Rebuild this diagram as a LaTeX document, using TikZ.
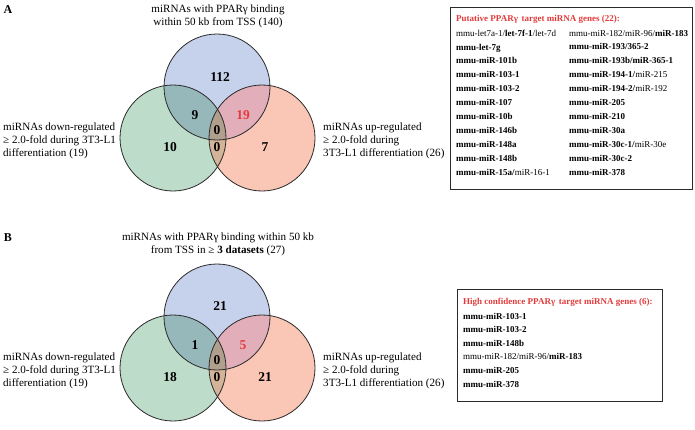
\documentclass[tikz,border=0pt]{standalone}
\usepackage{fontspec}
\setmainfont{Liberation Serif}
\definecolor{cblue}{HTML}{C6D1EC}
\definecolor{cgreen}{HTML}{BDDDCA}
\definecolor{corange}{HTML}{FAC6B6}
\definecolor{cbg}{HTML}{97B8BA}
\definecolor{cbo}{HTML}{E2AEB9}
\definecolor{cgo}{HTML}{D3B499}
\definecolor{cmid}{HTML}{B09F8C}
\definecolor{cred}{HTML}{E23B3B}
\definecolor{cline}{HTML}{2A2A2A}
\begin{document}
\begin{tikzpicture}[x=1pt,y=-1pt,
  lbl/.style={inner sep=0pt,font=\fontsize{11.1}{13}\selectfont},
  num/.style={inner sep=0pt,font=\fontsize{13.5}{15}\selectfont\bfseries},
  panel/.style={inner sep=0pt,font=\fontsize{12}{14}\selectfont\bfseries},
  boxtxt/.style={inner sep=0pt,anchor=west,align=left,font=\fontsize{9}{13.9}\selectfont},
  boxtxtb/.style={inner sep=0pt,anchor=west,align=left,font=\fontsize{9}{13.6}\selectfont},
  hdr/.style={inner sep=0pt,anchor=west,text=cred,font=\fontsize{9}{11}\selectfont\bfseries},
  ring/.style={draw=cline,line width=0.8pt},
  frame/.style={draw=cline,line width=0.8pt}]
\useasboundingbox (0,0) rectangle (695,429);

% ---------- Panel A ----------
\node[panel] (pA) at (8,10) {A};
\coordinate (Ab) at (217,87);
\coordinate (Ag) at (173,138);
\coordinate (Ao) at (262,138);
\fill[cgreen] (Ag) circle (53pt);
\fill[corange] (Ao) circle (53pt);
\fill[cblue] (Ab) circle (53pt);
\begin{scope}
  \clip (Ab) circle (53pt);
  \fill[cbg] (Ag) circle (53pt);
  \fill[cbo] (Ao) circle (53pt);
\end{scope}
\begin{scope}
  \clip (Ag) circle (53pt);
  \fill[cgo] (Ao) circle (53pt);
  \clip (Ab) circle (53pt);
  \fill[cmid] (Ao) circle (53pt);
\end{scope}
\draw[ring] (Ab) circle (53pt);
\draw[ring] (Ag) circle (53pt);
\draw[ring] (Ao) circle (53pt);
\node[num] (a112) at (220,77) {112};
\node[num] (a9) at (195,115) {9};
\node[num,text=cred] (a19) at (243,115) {19};
\node[num] (a0u) at (217,130) {0};
\node[num] (a0l) at (217,147) {0};
\node[num] (a10) at (170,147) {10};
\node[num] (a7) at (265,147) {7};
\node[lbl,align=center] (atop) at (218,16.5) {miRNAs with PPARγ binding\\within 50 kb from TSS (140)};
\node[lbl,align=left,anchor=west] (aleft) at (3,141) {miRNAs down-regulated\\≥ 2.0-fold during 3T3-L1\\differentiation (19)};
\node[lbl,align=left,anchor=west] (aright) at (323,141) {miRNAs up-regulated\\≥ 2.0-fold during\\3T3-L1 differentiation (26)};

\draw[frame] (450,7) rectangle (692,189);
\node[hdr] (ahdr) at (456,19) {Putative PPARγ\, target miRNA genes (22):};
\node[boxtxt] (acol1) at (456,102.5) {mmu-let7a-1/\textbf{let-7f-1}/let-7d\\
\textbf{mmu-let-7g}\\
\textbf{mmu-miR-101b}\\
\textbf{mmu-miR-103-1}\\
\textbf{mmu-miR-103-2}\\
\textbf{mmu-miR-107}\\
\textbf{mmu-miR-10b}\\
\textbf{mmu-miR-146b}\\
\textbf{mmu-miR-148a}\\
\textbf{mmu-miR-148b}\\
\textbf{mmu-miR-15a/}miR-16-1};
\node[boxtxt] (acol2) at (569,102.5) {mmu-miR-182/miR-96/\textbf{miR-183}\\
\textbf{mmu-miR-193/365-2}\\
\textbf{mmu-miR-193b/miR-365-1}\\
\textbf{mmu-miR-194-1/}miR-215\\
\textbf{mmu-miR-194-2/}miR-192\\
\textbf{mmu-miR-205}\\
\textbf{mmu-miR-210}\\
\textbf{mmu-miR-30a}\\
\textbf{mmu-miR-30c-1/}miR-30e\\
\textbf{mmu-miR-30c-2}\\
\textbf{mmu-miR-378}};

% ---------- Panel B ----------
\node[panel] (pB) at (8,238) {B};
\coordinate (Bb) at (217,317);
\coordinate (Bg) at (173,368);
\coordinate (Bo) at (262,368);
\fill[cgreen] (Bg) circle (53pt);
\fill[corange] (Bo) circle (53pt);
\fill[cblue] (Bb) circle (53pt);
\begin{scope}
  \clip (Bb) circle (53pt);
  \fill[cbg] (Bg) circle (53pt);
  \fill[cbo] (Bo) circle (53pt);
\end{scope}
\begin{scope}
  \clip (Bg) circle (53pt);
  \fill[cgo] (Bo) circle (53pt);
  \clip (Bb) circle (53pt);
  \fill[cmid] (Bo) circle (53pt);
\end{scope}
\draw[ring] (Bb) circle (53pt);
\draw[ring] (Bg) circle (53pt);
\draw[ring] (Bo) circle (53pt);
\node[num] (b21t) at (220,306) {21};
\node[num] (b1) at (195,345) {1};
\node[num,text=cred] (b5) at (243,345) {5};
\node[num] (b0u) at (217,360) {0};
\node[num] (b0l) at (217,377) {0};
\node[num] (b18) at (170,377) {18};
\node[num] (b21r) at (265,377) {21};
\node[lbl,align=center] (btop) at (218,244.5) {miRNAs with PPARγ binding within 50 kb\\from TSS in ≥ \textbf{3 datasets} (27)};
\node[lbl,align=left,anchor=west] (bleft) at (3,371) {miRNAs down-regulated\\≥ 2.0-fold during 3T3-L1\\differentiation (19)};
\node[lbl,align=left,anchor=west] (bright) at (323,371) {miRNAs up-regulated\\≥ 2.0-fold during\\3T3-L1 differentiation (26)};

\draw[frame] (457,289) rectangle (662,401);
\node[hdr] (bhdr) at (463,302) {High confidence PPARγ\, target miRNA genes (6):};
\node[boxtxtb] (bcol) at (463,350) {\textbf{mmu-miR-103-1}\\
\textbf{mmu-miR-103-2}\\
\textbf{mmu-miR-148b}\\
mmu-miR-182/miR-96/\textbf{miR-183}\\
\textbf{mmu-miR-205}\\
\textbf{mmu-miR-378}};
\end{tikzpicture}
\end{document}
